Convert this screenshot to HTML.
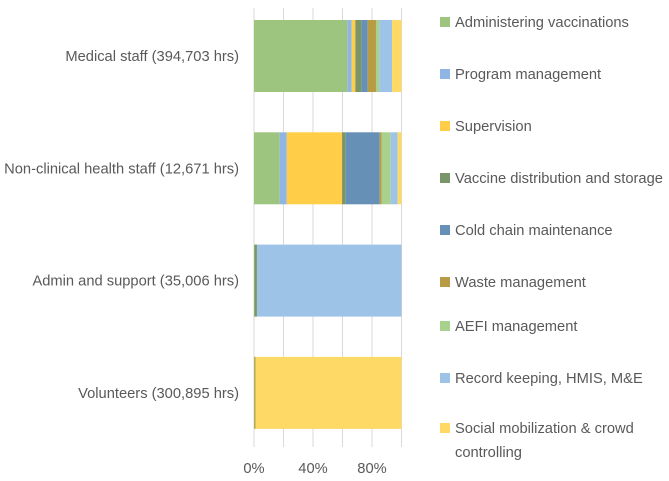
<!DOCTYPE html>
<html><head><meta charset="utf-8"><style>
body{margin:0;background:#fff;font-family:"Liberation Sans",sans-serif;}
svg text{font-family:"Liberation Sans",sans-serif;fill:#595959;font-size:14.7px;}
</style></head><body>
<svg id="c" width="669" height="476"></svg>
<script>
const categories=["Medical staff (394,703 hrs)","Non-clinical health staff (12,671 hrs)","Admin and support (35,006 hrs)","Volunteers (300,895 hrs)"];
const seriesNames=["Administering vaccinations","Program management","Supervision","Vaccine distribution and storage","Cold chain maintenance","Waste management","AEFI management","Record keeping, HMIS, M&E","Social mobilization & crowd controlling"];
const colors=["#9dc57f","#8fb6e3","#ffcd47","#7a9668","#6690b6","#b89b45","#a9d18e","#9dc3e6","#ffd966"];
const medical=[63.3,2.9,2.5,4.3,4.1,5.6,2.3,8.6,6.4];
const nonClinical=[17.4,4.8,37.5,2.5,23,1.4,6.1,4.7,2.6];
const admin=[0.3,0,0,1.7,0,0,0,98,0];
const volunteers=[0.3,0,0,0,0,0.7,0,0,99];
const seriesByCategory=[medical,nonClinical,admin,volunteers];
const ticks=[0,40,80];
const gridTicks=[0,20,40,60,80,100];
const NS="http://www.w3.org/2000/svg";
const svg=document.getElementById('c');
const x=v=>254+v*1.475;
const yTop=i=>20+i*112.3;
const barH=72;
function mk(t,a){const e=document.createElementNS(NS,t);for(const k in a)e.setAttribute(k,a[k]);svg.appendChild(e);return e;}
gridTicks.forEach(t=>{const g=mk('line',{x1:x(t),x2:x(t),y1:8,y2:447,stroke:'#d9d9d9','stroke-width':1});

});
ticks.forEach(t=>{const l=mk('text',{x:x(t),y:473,'text-anchor':'middle'});l.textContent=t+'%';

});
categories.forEach((c,i)=>{
 const l=mk('text',{x:239,y:yTop(i)+barH/2+5,'text-anchor':'end'});l.textContent=c;
 
 
 let acc=0;
 seriesByCategory[i].forEach((v,j)=>{
  if(v>0){const r=mk('rect',{x:x(acc),y:yTop(i),width:v*1.475,height:barH,fill:colors[j]});
  
  }
  acc+=v;});
});
const ly=[22,74,126,178,230,282,326,378,428];
seriesNames.forEach((n,j)=>{
 const r=mk('rect',{x:440,y:ly[j]-5,width:10,height:10,fill:colors[j]});
 
 
 const t=mk('text',{x:455,y:ly[j]+5});
 
 
 if(j===8){t.innerHTML='<tspan x="455">Social mobilization &amp; crowd</tspan><tspan x="455" dy="24">controlling</tspan>';}
 else t.textContent=n;
});
</script>
</body></html>
